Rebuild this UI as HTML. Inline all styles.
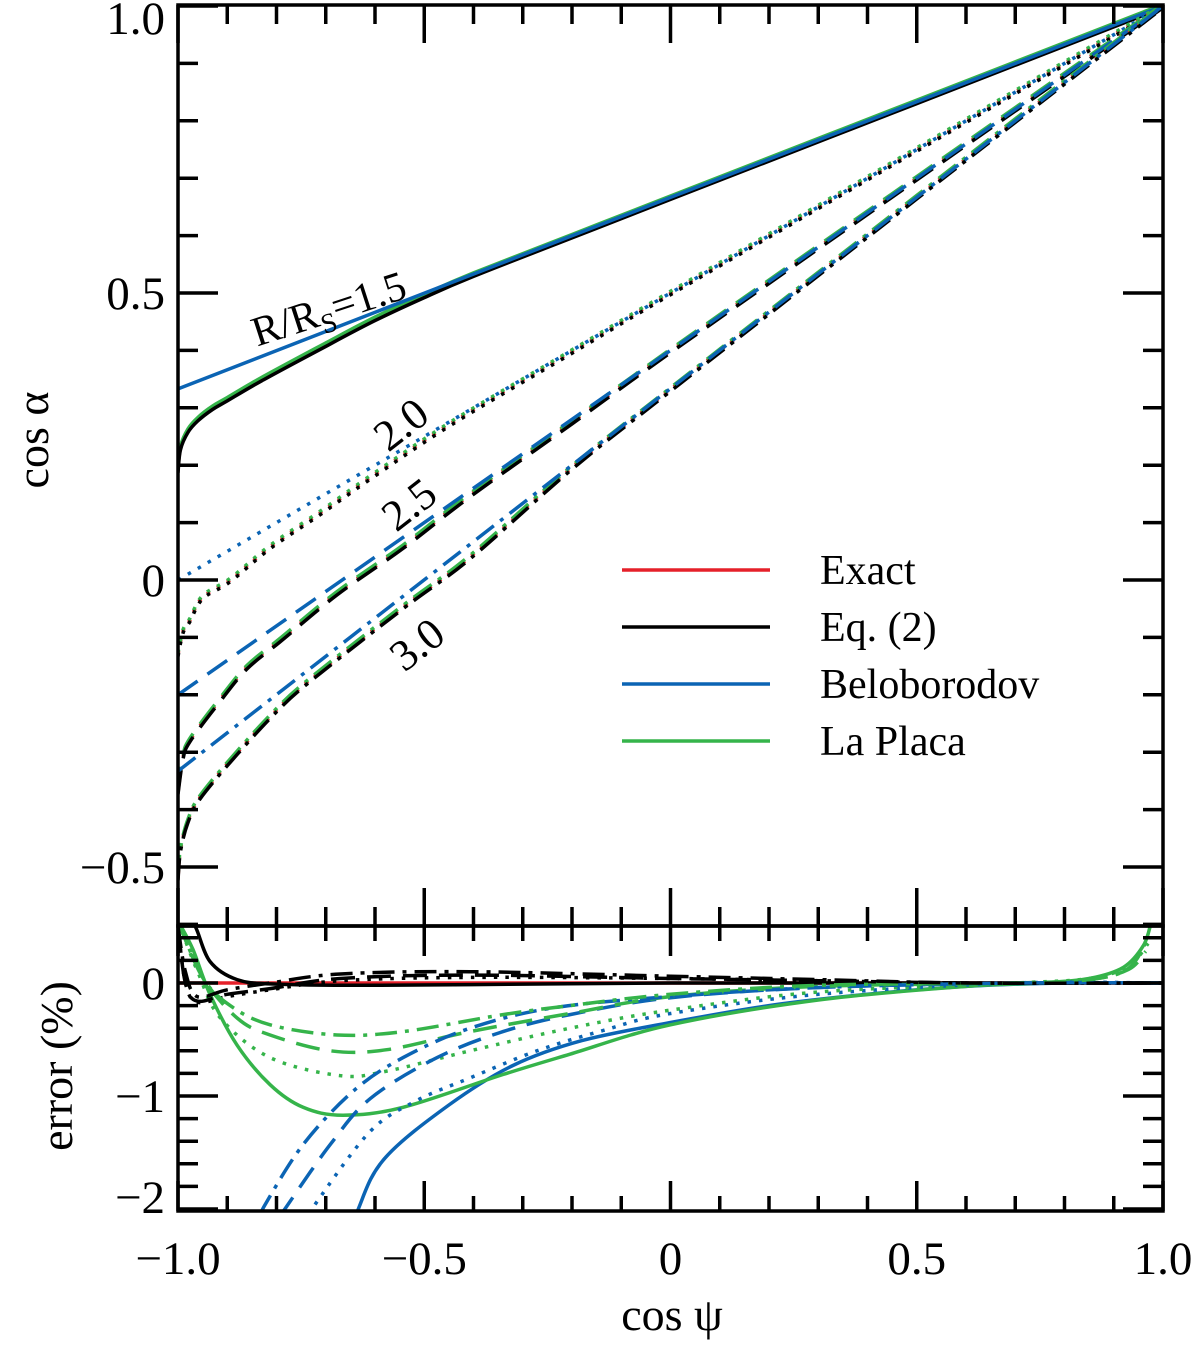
<!DOCTYPE html>
<html><head><meta charset="utf-8"><style>
body{margin:0;background:#fff}
svg{display:block}
text{font-family:"Liberation Serif",serif;fill:#000}
</style></head><body>
<svg id="chart" width="1200" height="1346" viewBox="0 0 1200 1346" xmlns="http://www.w3.org/2000/svg"></svg>
<script>
// ---- data ----
const radii = ["1.5", "2.0", "2.5", "3.0"];
// top panel: exact relation (cos psi, cos alpha)
const exactPsi15 = [-1, -0.995, -0.98, -0.96, -0.93, -0.9, -0.83, -0.7, -0.6, -0.5, -0.4, -0.2, 0, 0.5, 1];
const exactAlpha15 = [0.19, 0.23, 0.26, 0.28, 0.30, 0.315, 0.35, 0.41, 0.455, 0.495, 0.532, 0.599, 0.666, 0.833, 1];
const exactPsi20 = [-1, -0.99, -0.976, -0.95, -0.894, -0.813, -0.711, -0.609, -0.4416, -0.2, 0, 0.5, 1];
const exactAlpha20 = [-0.13, -0.09, -0.07, -0.03, 0.0, 0.0575, 0.117, 0.179, 0.275, 0.398, 0.5, 0.75, 1];
const exactPsi25 = [-1, -0.99, -0.976, -0.915, -0.86, -0.793, -0.677, -0.543, -0.407, -0.2, 0, 0.5, 1];
const exactAlpha25 = [-0.37, -0.31, -0.279, -0.209, -0.152, -0.105, -0.023, 0.058, 0.148, 0.275, 0.399, 0.7, 1];
const exactPsi30 = [-1, -0.995, -0.98, -0.955, -0.88, -0.799, -0.732, -0.543, -0.407, -0.2, 0, 0.5, 1];
const exactAlpha30 = [-0.52, -0.47, -0.42, -0.378, -0.301, -0.226, -0.174, -0.047, 0.04, 0.196, 0.332, 0.667, 1];
// Beloborodov straight lines: value at cos psi = -1 and +1
const beloEnds15 = [0.333, 1];
const beloEnds20 = [0.0, 1];
const beloEnds25 = [-0.2, 1];
const beloEnds30 = [-0.333, 1];
// bottom panel errors (%)
const errBeloPsi15 = [-0.67, -0.634, -0.58, -0.45, -0.32, -0.18, 0, 0.2, 0.4, 0.6, 0.8, 1];
const errBelo15 = [-2.5, -2.0, -1.55, -1.08, -0.73, -0.51, -0.35, -0.2, -0.1, -0.03, 0, 0];
const errBeloPsi20 = [-0.73, -0.717, -0.609, -0.515, -0.407, -0.271, -0.137, 0, 0.3, 0.7, 1];
const errBelo20 = [-2.05, -1.93, -1.31, -1.04, -0.84, -0.6, -0.42, -0.27, -0.1, 0, 0];
const errBeloPsi25 = [-0.79, -0.783, -0.691, -0.609, -0.474, -0.34, -0.204, 0, 0.3, 0.7, 1];
const errBelo25 = [-2.05, -2.0, -1.43, -1.02, -0.66, -0.43, -0.28, -0.13, -0.04, 0, 0];
const errBeloPsi30 = [-0.83, -0.823, -0.746, -0.645, -0.543, -0.407, -0.239, 0, 0.3, 0.7, 1];
const errBelo30 = [-2.05, -1.96, -1.43, -0.96, -0.66, -0.4, -0.22, -0.12, -0.04, 0, 0];
const errLaPsi15 = [-1, -0.97, -0.935, -0.88, -0.813, -0.746, -0.665, -0.543, -0.34, -0.204, 0, 0.3, 0.6, 0.75, 0.85, 0.92, 0.96, 0.975];
const errLa15 = [0.55, 0.3, -0.1, -0.55, -0.9, -1.1, -1.17, -1.1, -0.81, -0.63, -0.37, -0.15, -0.03, 0, 0.04, 0.14, 0.33, 0.52];
const errLaPsi20 = [-1, -0.96, -0.914, -0.813, -0.67, -0.576, -0.407, -0.204, 0, 0.3, 0.7, 0.85, 0.93, 0.97];
const errLa20 = [0.55, 0.1, -0.31, -0.66, -0.82, -0.78, -0.6, -0.4, -0.24, -0.08, 0, 0.04, 0.15, 0.35];
const errLaPsi25 = [-1, -0.95, -0.88, -0.813, -0.691, -0.576, -0.407, -0.204, 0, 0.3, 0.7, 0.85, 0.93, 0.965];
const errLa25 = [0.55, 0.05, -0.31, -0.46, -0.6, -0.59, -0.43, -0.27, -0.12, -0.03, 0, 0.03, 0.12, 0.28];
const errLaPsi30 = [-1, -0.95, -0.894, -0.813, -0.677, -0.543, -0.34, -0.204, 0, 0.3, 0.7, 0.85, 0.93, 0.97];
const errLa30 = [0.55, 0.05, -0.2, -0.37, -0.46, -0.43, -0.28, -0.2, -0.1, -0.02, 0, 0.03, 0.13, 0.4];
const errEqPsi15 = [-0.985, -0.965, -0.935, -0.88, -0.8, -0.6, -0.3, 0, 0.5, 1];
const errEq15 = [0.55, 0.5, 0.19, 0.03, -0.01, -0.02, -0.01, 0, 0, 0];
const errEqPsi20 = [-1, -0.985, -0.961, -0.9, -0.813, -0.67, -0.407, 0, 0.3, 0.6, 1];
const errEq20 = [0.5, 0.0, -0.17, -0.12, -0.06, 0.02, 0.05, 0.04, 0.02, 0, 0];
const errEqPsi25 = [-1, -0.985, -0.961, -0.9, -0.813, -0.67, -0.407, 0, 0.3, 0.6, 1];
const errEq25 = [0.5, 0.0, -0.16, -0.1, -0.05, 0.04, 0.07, 0.04, 0.02, 0, 0];
const errEqPsi30 = [-1, -0.985, -0.961, -0.9, -0.813, -0.67, -0.407, 0, 0.3, 0.6, 1];
const errEq30 = [0.5, 0.1, -0.12, -0.06, 0.0, 0.08, 0.1, 0.06, 0.03, 0, 0];
const xTicks = ["\u22121.0", "\u22120.5", "0", "0.5", "1.0"];
const xTickVals = [-1, -0.5, 0, 0.5, 1];
const yTicks = ["\u22120.5", "0", "0.5", "1.0"];
const yTickVals = [-0.5, 0, 0.5, 1];
const eTicks = ["\u22122", "\u22121", "0"];
const eTickVals = [-2, -1, 0];
const legendLabels = ["Exact", "Eq. (2)", "Beloborodov", "La Placa"];

// ---- layout ----
const L = 178, R = 1163, T = 5, M = 926, B = 1211;
const NS = "http://www.w3.org/2000/svg";
const svg = document.getElementById("chart");
const X = v => L + (v + 1) / 2 * (R - L);
const Y = v => 580 - v * 574;
const E = v => 983 - v * 113;
const C = {red: "#e5202a", black: "#000", blue: "#0b64b4", green: "#35b44a"};
const DASH = ["none", "3.5,8", "24,12", "22,8,4,8"];

function el(tag, attrs, parent) {
  const e = document.createElementNS(NS, tag);
  for (const k in attrs) e.setAttribute(k, attrs[k]);
  (parent || svg).appendChild(e);
  return e;
}
function pathD(xs, ys, fy) {
  const P = xs.map((x, i) => [X(x), fy(ys[i])]);
  let d = "M" + P[0][0].toFixed(1) + "," + P[0][1].toFixed(1);
  for (let i = 0; i < P.length - 1; i++) {
    const p0 = P[Math.max(i - 1, 0)], p1 = P[i], p2 = P[i + 1], p3 = P[Math.min(i + 2, P.length - 1)];
    const c1 = [p1[0] + (p2[0] - p0[0]) / 6, p1[1] + (p2[1] - p0[1]) / 6];
    const c2 = [p2[0] - (p3[0] - p1[0]) / 6, p2[1] - (p3[1] - p1[1]) / 6];
    d += " C" + c1[0].toFixed(1) + "," + c1[1].toFixed(1) + " " + c2[0].toFixed(1) + "," + c2[1].toFixed(1) + " " + p2[0].toFixed(1) + "," + p2[1].toFixed(1);
  }
  return d;
}
const defs = el("defs", {});
const cpT = el("clipPath", {id: "clipTop"}, defs);
el("rect", {x: L, y: T, width: R - L, height: M - T}, cpT);
const cpB = el("clipPath", {id: "clipBot"}, defs);
el("rect", {x: L, y: M, width: R - L, height: B - M}, cpB);

function series(xs, ys, fy, color, dash, name, clip) {
  const p = el("path", {d: pathD(xs, ys, fy), fill: "none", stroke: color, "stroke-width": 3.5,
    "stroke-dasharray": dash, "clip-path": "url(#" + clip + ")", "stroke-linejoin": "round"});
  
  
}

// top panel
const exactXs = [exactPsi15, exactPsi20, exactPsi25, exactPsi30];
const exactYs = [exactAlpha15, exactAlpha20, exactAlpha25, exactAlpha30];
const beloE = [beloEnds15, beloEnds20, beloEnds25, beloEnds30];
for (let i = 0; i < 4; i++) {
  series(exactXs[i], exactYs[i], Y, C.red, DASH[i], "exact-curve-r" + radii[i], "clipTop");
  series(exactXs[i], exactYs[i].map(v => v + 0.003), Y, C.green, DASH[i], "laplaca-curve-r" + radii[i], "clipTop");
  series(exactXs[i], exactYs[i].map(v => v - 0.003), Y, C.black, DASH[i], "eq2-curve-r" + radii[i], "clipTop");
  series([-1, 1], beloE[i], Y, C.blue, DASH[i], "beloborodov-curve-r" + radii[i], "clipTop");
}
// bottom panel
series([-1, 1], [0, 0], E, C.red, "none", "exact-error", "clipBot");
const bx = [errBeloPsi15, errBeloPsi20, errBeloPsi25, errBeloPsi30], by = [errBelo15, errBelo20, errBelo25, errBelo30];
const gx = [errLaPsi15, errLaPsi20, errLaPsi25, errLaPsi30], gy = [errLa15, errLa20, errLa25, errLa30];
const kx = [errEqPsi15, errEqPsi20, errEqPsi25, errEqPsi30], ky = [errEq15, errEq20, errEq25, errEq30];
for (let i = 0; i < 4; i++) {
  series(bx[i], by[i], E, C.blue, DASH[i], "beloborodov-error-r" + radii[i], "clipBot");
  series(gx[i], gy[i], E, C.green, DASH[i], "laplaca-error-r" + radii[i], "clipBot");
  series(kx[i], ky[i], E, C.black, DASH[i], "eq2-error-r" + radii[i], "clipBot");
}

// frames
const f1 = el("rect", {x: L, y: T, width: R - L, height: M - T, fill: "none", stroke: "#000", "stroke-width": 3.5});
 
const f2 = el("rect", {x: L, y: M, width: R - L, height: B - M, fill: "none", stroke: "#000", "stroke-width": 3.5});
 

function tick(x1, y1, x2, y2, name) {
  const t = el("line", {x1, y1, x2, y2, stroke: "#000", "stroke-width": 3.5});
  
  
}
// x ticks
for (let k = 0; k <= 20; k++) {
  const v = -1 + k * 0.1, x = X(v), maj = k % 5 === 0;
  tick(x, T, x, T + (maj ? 38 : 19), "x-tick");
  tick(x, M, x, M - (maj ? 38 : 19), "x-tick");
  tick(x, M, x, M + (maj ? 30 : 15), "x-tick");
  tick(x, B, x, B - (maj ? 30 : 15), "x-tick");
}
// y ticks top
for (let k = -6; k <= 10; k++) {
  const y = Y(k / 10), maj = k % 5 === 0;
  if (y < T - 1 || y > M + 1) continue;
  tick(L, y, L + (maj ? 40 : 20), y, "y-tick");
  tick(R, y, R - (maj ? 40 : 20), y, "y-tick");
}
// y ticks bottom
for (let k = -10; k <= 2; k++) {
  const y = E(k / 5), maj = k % 5 === 0;
  tick(L, y, L + (maj ? 40 : 20), y, "error-tick");
  tick(R, y, R - (maj ? 40 : 20), y, "error-tick");
}
function txt(s, x, y, size, anchor, name, rot) {
  const t = el("text", {x, y, "font-size": size, "text-anchor": anchor || "middle"});
  if (rot) t.setAttribute("transform", "rotate(" + rot + " " + x + " " + y + ")");
  t.textContent = s;
  
  
  return t;
}
xTicks.forEach((s, i) => txt(s, X(xTickVals[i]), 1274, 47, "middle", "x-tick-label"));
yTicks.forEach((s, i) => txt(s, 165, Math.max(Y(yTickVals[i]) + 16, 34), 47, "end", "y-tick-label"));
eTicks.forEach((s, i) => txt(s, 165, Math.min(E(eTickVals[i]), 1197) + 16, 47, "end", "error-tick-label"));
txt("cos \u03c8", 672, 1330, 46, "middle", "x-axis-title");
txt("cos \u03b1", 48, 440, 46, "middle", "y-axis-title", -90);
txt("error (%)", 72, 1066, 46, "middle", "error-axis-title", -90);

// curve labels
const lab = txt("", 333, 322, 42, "middle", "label-r1.5", -18);
lab.innerHTML = 'R/R<tspan font-size="28" dy="9">S</tspan><tspan dy="-9">=1.5</tspan>';
txt("2.0", 410, 436, 44, "middle", "label-r2.0", -38);
txt("2.5", 418, 516, 44, "middle", "label-r2.5", -38);
txt("3.0", 426, 656, 44, "middle", "label-r3.0", -38);

// legend
const lc = [C.red, C.black, C.blue, C.green];
legendLabels.forEach((s, i) => {
  const y = 570 + i * 57;
  const g = el("g", {});
  
  
  el("line", {x1: 622, y1: y, x2: 770, y2: y, stroke: lc[i], "stroke-width": 3.5}, g);
  const t = el("text", {x: 820, y: y + 14, "font-size": 42}, g);
  t.textContent = s;
});
</script>
</body></html>
